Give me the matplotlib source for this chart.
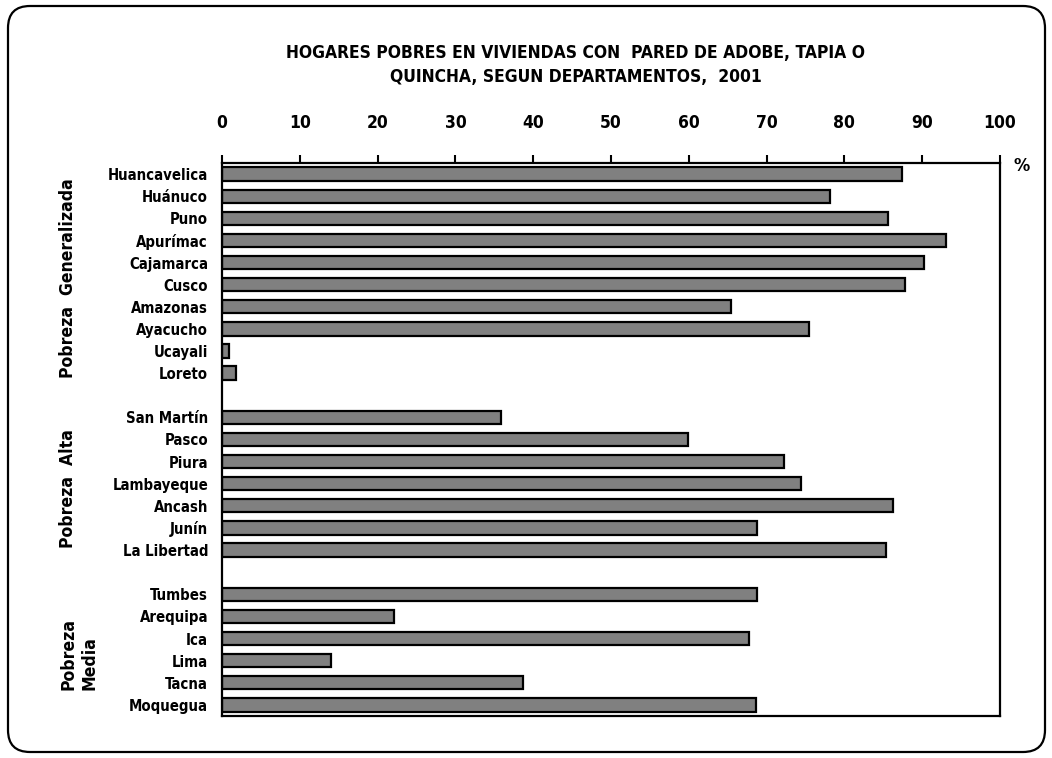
import numpy as np
import matplotlib
matplotlib.use("Agg")
import matplotlib.pyplot as plt
from matplotlib.patches import FancyBboxPatch

plt.rcParams['font.family'] = ['DejaVu Sans']
plt.rcParams['font.stretch'] = 'condensed'

# Datos por grupo de pobreza
generalizada = ['Huancavelica', 'Huánuco', 'Puno', 'Apurímac', 'Cajamarca',
                'Cusco', 'Amazonas', 'Ayacucho', 'Ucayali', 'Loreto']
val_generalizada = [87.4, 78.2, 85.6, 93.0, 90.2, 87.8, 65.4, 75.4, 0.9, 1.8]

alta = ['San Martín', 'Pasco', 'Piura', 'Lambayeque', 'Ancash', 'Junín', 'La Libertad']
val_alta = [35.9, 59.9, 72.2, 74.4, 86.2, 68.8, 85.3]

media = ['Tumbes', 'Arequipa', 'Ica', 'Lima', 'Tacna', 'Moquegua']
val_media = [68.8, 22.1, 67.7, 14.0, 38.7, 68.6]

grupos = ['Pobreza  Generalizada', 'Pobreza  Alta', 'Pobreza\nMedia']
titulo = 'HOGARES POBRES EN VIVIENDAS CON  PARED DE ADOBE, TAPIA O\nQUINCHA, SEGUN DEPARTAMENTOS,  2001'

# posiciones con un hueco entre grupos
nombres, valores, pos, centros = [], [], [], []
y0 = 0
for cats, vals in [(generalizada, val_generalizada), (alta, val_alta), (media, val_media)]:
    p = list(range(y0, y0 + len(cats)))
    nombres += cats
    valores += vals
    pos += p
    centros.append((p[0] + p[-1]) / 2)
    y0 += len(cats) + 1

fig = plt.figure(figsize=(10.52, 7.58), dpi=100)
ax = fig.add_axes([0.211, 0.0554, 0.7396, 0.7296])

ax.barh(pos, valores, height=0.6, color='#808080', edgecolor='black', linewidth=1.6)

ax.set_xlim(0, 100)
ax.set_ylim(24.5, -0.5)
ax.xaxis.tick_top()
ax.set_xticks(np.arange(0, 101, 10))
ax.tick_params(axis='x', direction='out', length=6, width=1.5, pad=16, labelsize=12.5)
for t in ax.get_xticklabels():
    t.set_fontweight('bold')
ax.set_yticks(pos)
ax.set_yticklabels(nombres, fontsize=10.7, fontweight='bold')
ax.tick_params(axis='y', length=0, pad=10)
for s in ax.spines.values():
    s.set_linewidth(1.6)

ax.text(1.017, 0.995, '%', transform=ax.transAxes, fontsize=13, fontweight='bold',
        ha='left', va='center')

for g, c in zip(grupos, centros):
    ax.text(-0.209, c + 0.2, g, transform=ax.get_yaxis_transform(), rotation=90,
            ha='left', va='center', fontsize=12.6, fontweight='bold', linespacing=1.2)

fig.text(0.547, 0.914, titulo, ha='center', va='center', fontsize=12.5,
         fontweight='bold', linespacing=1.45)

marco = FancyBboxPatch((0.08, 0.06), 10.37, 7.46, boxstyle='round,pad=0,rounding_size=0.22',
                       transform=fig.dpi_scale_trans, fill=False, edgecolor='black',
                       linewidth=1.6)
fig.patches.append(marco)

fig.savefig('out.png', dpi=100)
